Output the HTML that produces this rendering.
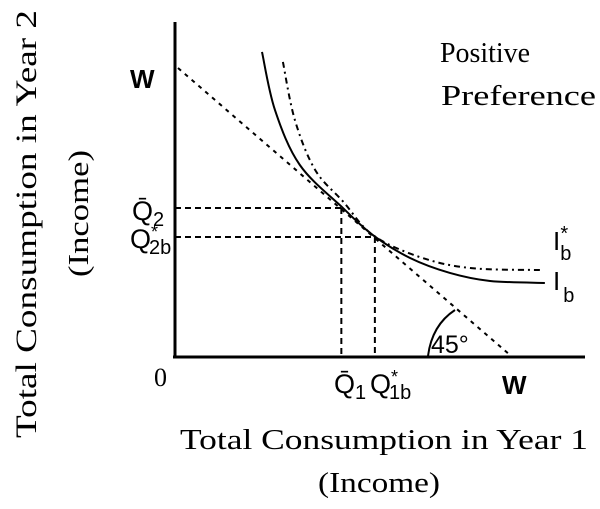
<!DOCTYPE html>
<html><head><meta charset="utf-8"><style>
html,body{margin:0;padding:0;background:#fff;}
svg{display:block;font-family:"Liberation Serif",serif;}
</style></head><body>
<svg id="chart" width="600" height="509" viewBox="0 0 600 509">
<g id="marks"></g>
<line x1="175" y1="22" x2="175" y2="358" stroke="#000" stroke-width="3"/>
<line x1="173" y1="357" x2="585" y2="357" stroke="#000" stroke-width="3"/>
<path d="M428,356 Q432,325 455,310" fill="none" stroke="#000" stroke-width="2"/>
<text x="431" y="353" font-family="Liberation Sans,sans-serif" font-size="25">45°</text>
<text x="440" y="62" font-size="28" textLength="90" lengthAdjust="spacingAndGlyphs">Positive</text>
<text x="441" y="105" font-size="28" textLength="155" lengthAdjust="spacingAndGlyphs">Preference</text>
<text x="130" y="88" font-family="Liberation Sans,sans-serif" font-weight="bold" font-size="26">W</text>
<text x="132" y="220" font-family="Liberation Sans,sans-serif" font-size="27">Q̄<tspan font-size="20" dy="6">2</tspan></text>
<text x="130" y="248" font-family="Liberation Sans,sans-serif" font-size="27">Q<tspan font-size="18" dy="-10">*</tspan><tspan font-size="20" dy="16" dx="-9">2b</tspan></text>
<text x="154" y="386" font-size="26">0</text>
<text x="334" y="393" font-family="Liberation Sans,sans-serif" font-size="27">Q̄<tspan font-size="20" dy="6">1</tspan></text>
<text x="370" y="393" font-family="Liberation Sans,sans-serif" font-size="27">Q<tspan font-size="18" dy="-10">*</tspan><tspan font-size="20" dy="16" dx="-9">1b</tspan></text>
<text x="502" y="394" font-family="Liberation Sans,sans-serif" font-weight="bold" font-size="26">W</text>
<text x="553" y="250" font-family="Liberation Sans,sans-serif" font-size="26">I<tspan font-size="20" dy="10">b</tspan><tspan font-size="20" dy="-20" dx="-11">*</tspan></text>
<text x="553" y="290" font-family="Liberation Sans,sans-serif" font-size="26">I<tspan font-size="20" dy="12" dx="3">b</tspan></text>
<text x="180" y="449" font-size="29" textLength="408" lengthAdjust="spacingAndGlyphs">Total Consumption in Year 1</text>
<text x="318" y="492" font-size="29" textLength="122" lengthAdjust="spacingAndGlyphs">(Income)</text>
<text transform="translate(36,438) rotate(-90)" font-size="30" textLength="428" lengthAdjust="spacingAndGlyphs">Total Consumption in Year 2</text>
<text transform="translate(88,277) rotate(-90)" font-size="29" textLength="127" lengthAdjust="spacingAndGlyphs">(Income)</text>
</svg>
<script>
const budgetX=[0,10];
const budgetY=[10,0];
const ibX=[2.53,2.92,3.67,4.97,5.87,6.99,8.19,9.40,11.05];
const ibY=[10.56,8.54,6.62,5.12,4.18,3.38,2.86,2.58,2.51];
const ibStarX=[3.16,3.52,4.13,4.97,5.87,7.29,8.80,10.9];
const ibStarY=[10.21,8.19,6.45,5.35,4.18,3.41,3.03,2.96];
const q1=[4.92,5.93];
const q2=[5.12,4.11];
const sx=v=>178+v*33.2, sy=v=>355-v*28.7;
const NS="http://www.w3.org/2000/svg", g=document.getElementById('marks');
function pathOf(xs,ys){return xs.map((x,i)=>(i?'L':'M')+sx(x)+','+sy(ys[i])).join(' ');}
function smooth(xs,ys){let d='M'+sx(xs[0])+','+sy(ys[0]);for(let i=1;i<xs.length;i++){const x0=sx(xs[i-1]),y0=sy(ys[i-1]),x1=sx(xs[i]),y1=sy(ys[i]);const xp=i>1?sx(xs[i-2]):x0,yp=i>1?sy(ys[i-2]):y0;const xn=i<xs.length-1?sx(xs[i+1]):x1,yn=i<xs.length-1?sy(ys[i+1]):y1;d+=' C'+(x0+(x1-xp)/6)+','+(y0+(y1-yp)/6)+' '+(x1-(xn-x0)/6)+','+(y1-(yn-y0)/6)+' '+x1+','+y1;}return d;}
function mk(d,dash,w){const p=document.createElementNS(NS,'path');p.setAttribute('d',d);p.setAttribute('fill','none');p.setAttribute('stroke','#000');p.setAttribute('stroke-width',w);if(dash)p.setAttribute('stroke-dasharray',dash);g.appendChild(p);return p;}
let p=mk(pathOf(budgetX,budgetY),'4,5',2);


p=mk(smooth(ibX,ibY),null,2);


p=mk(smooth(ibStarX,ibStarY),'6,4,2,4',2);


for(let i=0;i<q1.length;i++){
 const h=mk('M175,'+sy(q2[i])+' L'+sx(q1[i])+','+sy(q2[i]),'6,4',2);
 
 
 const v=mk('M'+sx(q1[i])+','+sy(q2[i])+' L'+sx(q1[i])+',357','6,4',2);
 
 
}
</script>
</body></html>
